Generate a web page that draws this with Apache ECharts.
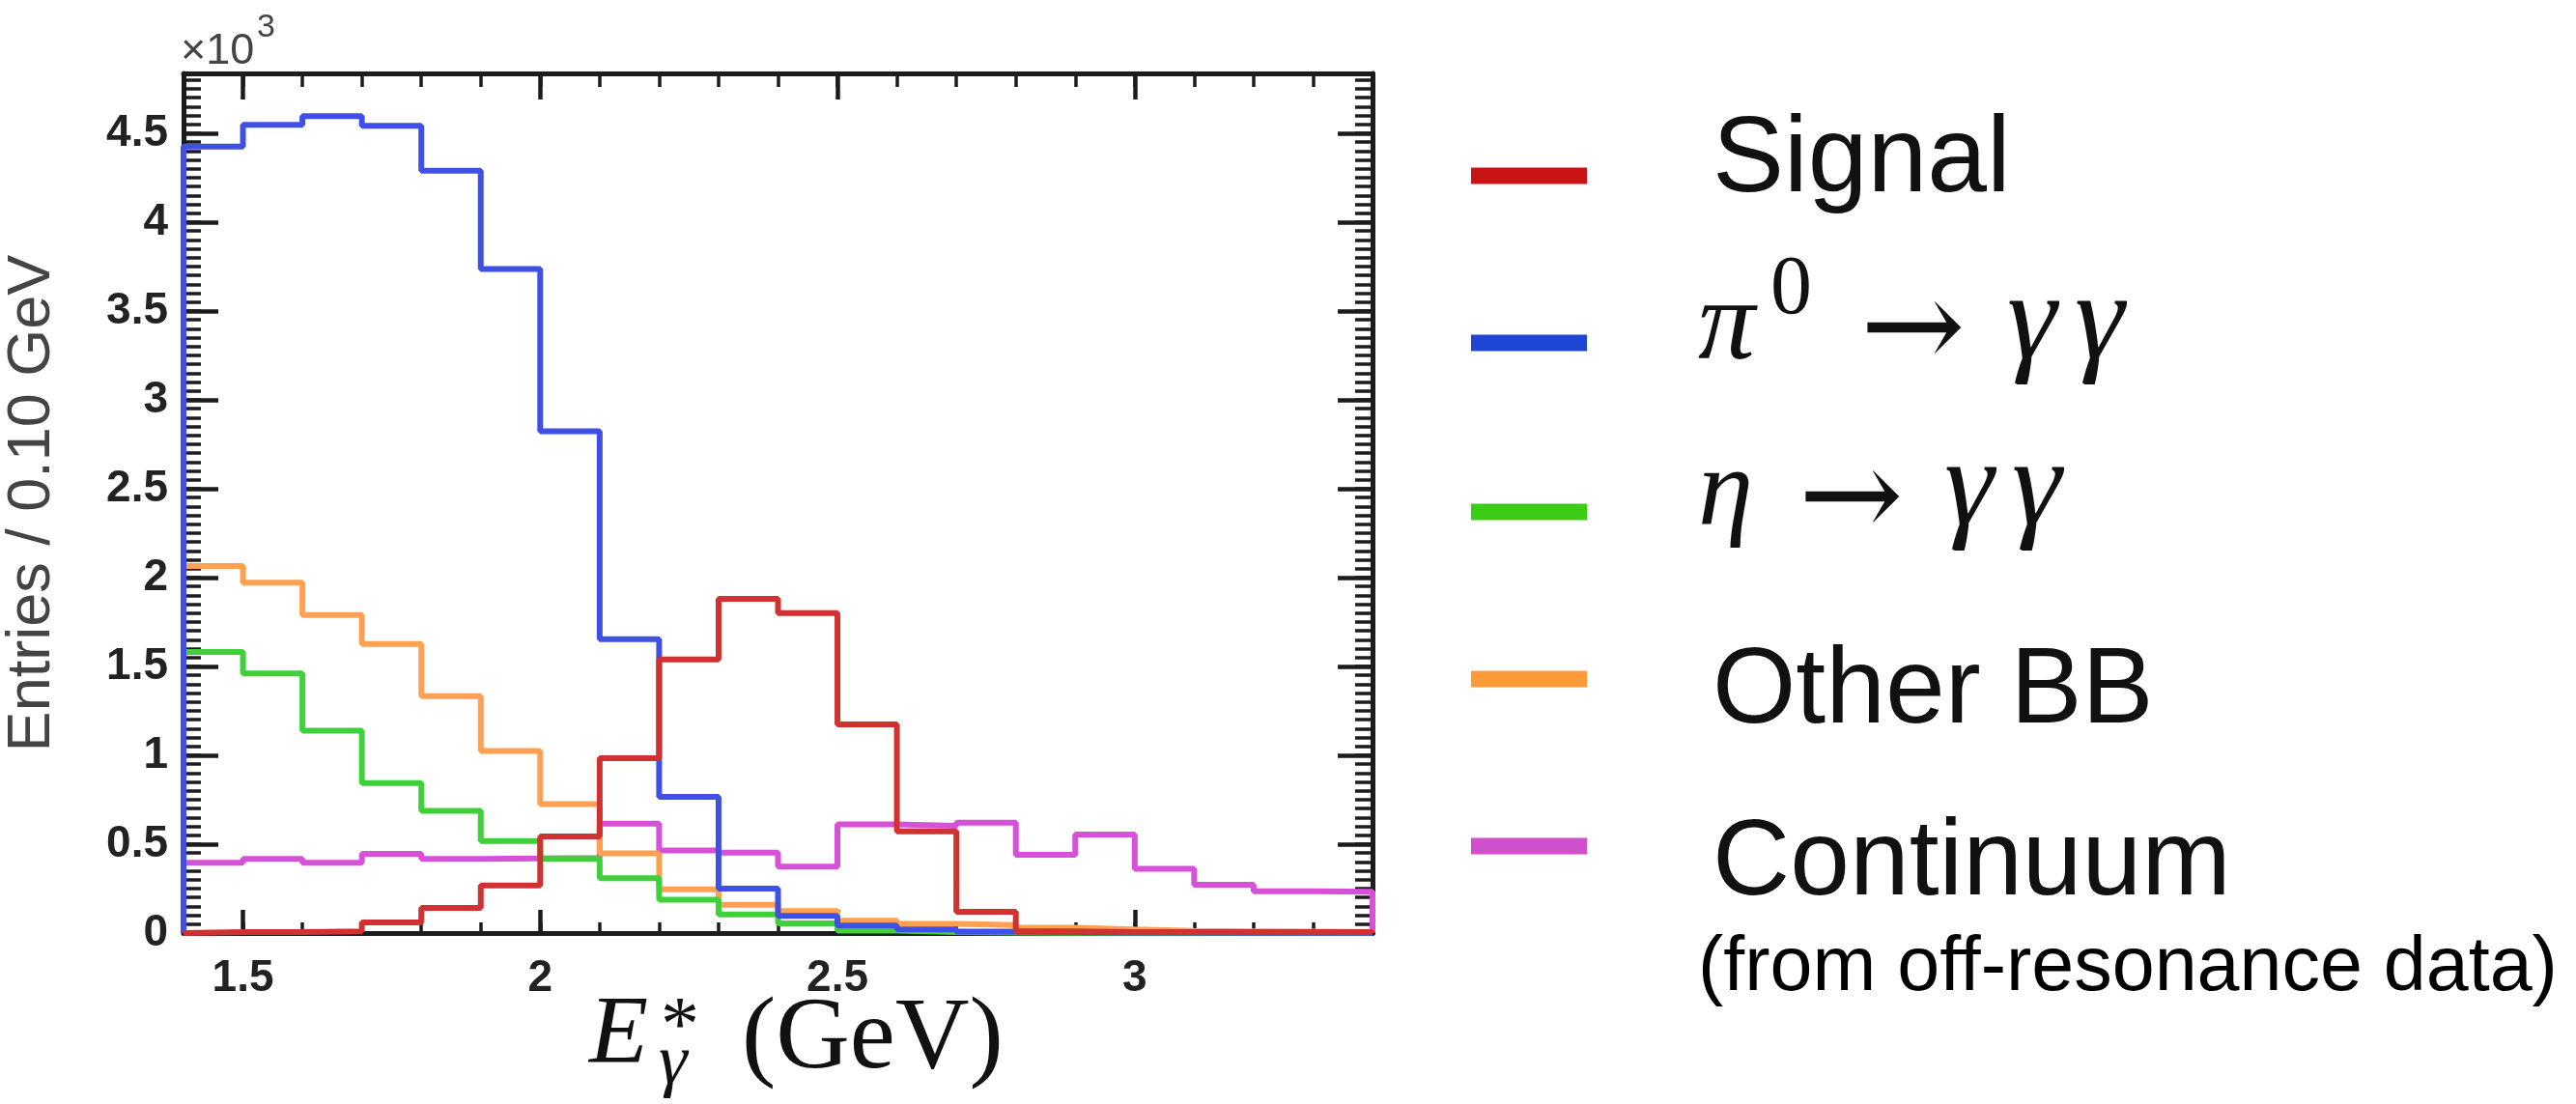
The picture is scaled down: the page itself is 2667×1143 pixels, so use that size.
<!DOCTYPE html>
<html><head><meta charset="utf-8">
<script src="https://cdn.jsdelivr.net/npm/echarts@6/dist/echarts.min.js"></script>
<style>html,body{margin:0;padding:0;background:#fff;}#c{width:2667px;height:1143px;}</style>
</head><body><div id="c"></div>
<script>
// ---- data (entries in units of 10^3 per 0.10 GeV bin) ----
const binEdges = [1.4,1.5,1.6,1.7,1.8,1.9,2.0,2.1,2.2,2.3,2.4,2.5,2.6,2.7,2.8,2.9,3.0,3.1,3.2,3.3,3.4];
const signal    = [0.005,0.005,0.01,0.06,0.141,0.268,0.543,0.984,1.54,1.88,1.80,1.174,0.572,0.12,0.01,0.005,0.005,0.005,0.005,0.005];
const pi0       = [4.425,4.547,4.597,4.542,4.289,3.736,2.824,1.654,0.766,0.25,0.096,0.042,0.02,0.008,0.005,0.003,0.003,0.002,0.002,0.002];
const eta       = [1.582,1.46,1.138,0.844,0.688,0.518,0.417,0.308,0.187,0.105,0.054,0.014,0.005,0.003,0.002,0.002,0.001,0.001,0.001,0.001];
const otherBB   = [2.065,1.971,1.79,1.627,1.333,1.025,0.725,0.449,0.246,0.159,0.123,0.069,0.051,0.045,0.03,0.02,0.012,0.01,0.008,0.006];
const continuum = [0.395,0.417,0.395,0.446,0.417,0.42,0.422,0.616,0.464,0.453,0.373,0.612,0.603,0.621,0.44,0.554,0.362,0.272,0.235,0.233];
const xTickLabels = [1.5,2,2.5,3];
const yTickLabels = [0,0.5,1,1.5,2,2.5,3,3.5,4,4.5];
const seriesNames = ['Signal','π0 → γγ','η → γγ','Other BB','Continuum'];

const X_MIN = 1.4, X_MAX = 3.4, Y_MIN = 0, Y_MAX = 4.837;
const AX = '#1c1c1c';

function stepData(vals){
  const last = binEdges.length - 1;
  const d = [[binEdges[0], 0]];
  vals.forEach((v,i)=>d.push([binEdges[i], v]));
  d.push([binEdges[last], vals[vals.length-1]]);
  d.push([binEdges[last], 0]);
  return d;
}

function xAxisDef(pos, major){
  return {
    type:'value', min:X_MIN, max:X_MAX, position:pos,
    interval: major ? undefined : 0.1,
    axisLine:{show:!major, onZero:false, lineStyle:{color:AX,width:5}},
    axisTick:{show:true, inside:true,
      length: pos==='bottom' ? (major?24:11) : (major?27:14),
      customValues: major ? xTickLabels : undefined,
      lineStyle:{color:AX,width: major?4.5:3.5}},
    axisLabel:{show: pos==='bottom' && !major, customValues:xTickLabels,
      formatter:v=>String(+v.toFixed(2)), margin:24,
      fontSize:46, fontWeight:'bold', color:'#222', fontFamily:'Liberation Sans'},
    splitLine:{show:false}
  };
}
function yAxisDef(pos, major, withName){
  const a = {
    type:'value', min:Y_MIN, max:Y_MAX, position:pos,
    interval: major ? undefined : 0.05,
    axisLine:{show:!major, onZero:false, lineStyle:{color:AX,width:5}},
    axisTick:{show:true, inside:true, length: major?36:18,
      customValues: major ? yTickLabels : undefined,
      lineStyle:{color:AX,width: major?4.5:3.5}},
    axisLabel:{show: pos==='left' && !major, customValues:yTickLabels,
      formatter:v=>String(+v.toFixed(2)), margin:16,
      fontSize:46, fontWeight:'bold', color:'#222', fontFamily:'Liberation Sans'},
    splitLine:{show:false}
  };
  if (withName){
    a.name = 'Entries / 0.10 GeV';
    a.nameLocation = 'middle';
    a.nameGap = 125;
    a.nameTextStyle = {fontSize:63, color:'#444', fontFamily:'Liberation Sans'};
  }
  return a;
}

const lineColors = ['#d03232','#4050e4','#40d03c','#ffa052','#d650d8'];
const legendColors = ['#c81414','#1f46d2','#3ccc16','#ff9a38','#d050cc'];
const seriesVals = [signal, pi0, eta, otherBB, continuum];
const drawOrder = [4,3,2,1,0];

const series = drawOrder.map((k,j)=>({
  name: seriesNames[k], type:'line', step:'end', xAxisIndex:0, yAxisIndex:0,
  data: stepData(seriesVals[k]), showSymbol:false, symbol:'none', clip:true,
  lineStyle:{color:lineColors[k], width:6}, itemStyle:{color:lineColors[k]},
  z: 3 + j, animation:false
}));

// ---- text helpers (baseline -> middle y) ----
const SANS = 'Liberation Sans', SERIF = 'Liberation Serif', DSERIF = 'DejaVu Serif';
function txt(text, x, baseline, size, opts){
  opts = opts || {};
  const k = opts.k != null ? opts.k : 0.31;
  return {type:'text', silent:true, style:{
    text, x, y: baseline - k*size, align: opts.align || 'left', verticalAlign:'middle',
    fontSize:size, fontFamily: opts.family || SANS, fontStyle: opts.style || 'normal',
    fontWeight: opts.weight || 'normal', fill: opts.fill || '#111'}};
}
function mid(text, x, ymid, size, opts){
  opts = opts || {};
  return {type:'text', silent:true, style:{
    text, x, y: ymid, align:'left', verticalAlign:'middle',
    fontSize:size, fontFamily: opts.family || SANS, fontStyle: opts.style || 'normal',
    fill: opts.fill || '#111'}};
}
const legendCenters = [182,355,530,703,876];
const graphics = [];
legendCenters.forEach((cy,i)=>{
  graphics.push({type:'rect', silent:true, shape:{x:1523, y:cy-8.5, width:120, height:17},
    style:{fill:legendColors[i]}});
});
// legend labels
graphics.push(txt('Signal', 1773, 202, 111));
graphics.push(txt('π', 1758, 377, 118, {family:SERIF, style:'italic'}));
graphics.push(txt('0', 1833, 328, 86, {family:SERIF}));
graphics.push(mid('→', 1926, 347, 130, {family:DSERIF}));
graphics.push(txt('γ', 2078, 376, 130, {family:SERIF, style:'italic'}));
graphics.push(txt('γ', 2148, 376, 130, {family:SERIF, style:'italic'}));
graphics.push(txt('η', 1758, 548, 115, {family:SERIF, style:'italic'}));
graphics.push(mid('→', 1862, 522, 130, {family:DSERIF}));
graphics.push(txt('γ', 2013, 548, 130, {family:SERIF, style:'italic'}));
graphics.push(txt('γ', 2083, 548, 130, {family:SERIF, style:'italic'}));
graphics.push(txt('Other BB', 1773, 752, 111));
graphics.push(txt('Continuum', 1773, 930, 111));
graphics.push(txt('(from off-resonance data)', 1758, 1028, 79, {fill:'#000'}));
// x axis title  E*_gamma (GeV)
graphics.push(txt('E', 610, 1104, 100, {family:SERIF, style:'italic'}));
graphics.push(txt('*', 684, 1091, 80, {family:SERIF}));
graphics.push(txt('γ', 682, 1125, 75, {family:SERIF, style:'italic'}));
graphics.push(txt('(GeV)', 768, 1110, 106, {family:SERIF}));
// exponent
graphics.push(txt('×10', 187, 68, 45, {fill:'#444'}));
graphics.push(txt('3', 266, 39, 34, {fill:'#444'}));

const chart = echarts.init(document.getElementById('c'), null, {renderer:'canvas', width:2667, height:1143});
chart.setOption({
  animation:false,
  backgroundColor:'#ffffff',
  grid:{left:190, top:76, width:1231, height:890, containLabel:false, outerBoundsMode:'none'},
  xAxis:[xAxisDef('bottom',false), xAxisDef('bottom',true), xAxisDef('top',false), xAxisDef('top',true)],
  yAxis:[yAxisDef('left',false,true), yAxisDef('left',true,false), yAxisDef('right',false,false), yAxisDef('right',true,false)],
  series: series,
  graphic: graphics
});
</script></body></html>
